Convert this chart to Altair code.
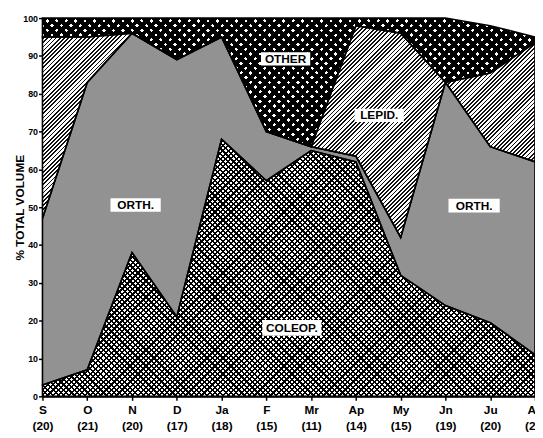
import math
import altair as alt
import pandas as pd

months = ["S", "O", "N", "D", "Ja", "F", "Mr", "Ap", "My", "Jn", "Ju", "Au"]
samples = [20, 21, 20, 17, 18, 15, 11, 14, 15, 19, 20, 21]

# % of total volume per food group
coleop = [3, 7, 38, 21, 68, 57, 65, 62, 32, 24, 19.5, 11]
orth = [44, 76, 58, 68, 27, 13, 1, 1.5, 10, 59, 46.5, 51]
lepid = [48, 12, 0, 0, 0, 0, 0, 34.5, 54, 0, 19.5, 31.5]
other = [5, 5, 4, 11, 5, 30, 34, 2, 4, 17, 12.5, 1.5]

groups = ["COLEOP", "ORTH", "LEPID", "OTHER"]
series = [coleop, orth, lepid, other]

label_text = ["ORTH.", "OTHER", "LEPID.", "ORTH.", "COLEOP."]
label_month = [2.08, 5.43, 7.52, 9.64, 5.57]
label_value = [50.6, 89.2, 74.3, 50.4, 18.1]
label_box = [51, 50, 50, 52, 60]

PLOT_W, PLOT_H = 500, 384

rows = []
for i in range(len(months)):
    base = 0.0
    for g, s in zip(groups, series):
        rows.append({"m": i, "group": g, "lo": base, "hi": base + s[i]})
        base += s[i]
df = pd.DataFrame(rows)

labels = pd.DataFrame({
    "m": label_month, "lo": label_value, "t": label_text,
    "sz": [w * w for w in label_box],
})

label_expr = "[" + ",".join(
    f"['{m}','({n})']" for m, n in zip(months, samples)) + "][datum.value]"


def group_height_px(g):
    sub = df[df["group"] == g]
    return (sub["hi"].max() - sub["lo"].min()) * PLOT_H / 100.0


def stripes(g, direction, period, frac, dark, light):
    """Hatch imitation: a linear gradient with many hard stops."""
    w, h = PLOT_W, group_height_px(g)
    k = h / w
    s = (1 + k) / (1 + k * k) * 1.02
    if direction == "/":
        x1, y1, x2, y2 = 0, 0, s, s * k
    else:
        x1, y1, x2, y2 = 0, 1, s, 1 - s * k
    length = s * (w + h * h / w) / math.sqrt(2)
    n = max(1, int(round(length / period)))
    stops = []
    for i in range(n):
        a, b, c = i / n, (i + frac) / n, (i + 1) / n
        stops += [
            {"offset": round(a, 5), "color": dark},
            {"offset": round(b, 5), "color": dark},
            {"offset": round(b, 5), "color": light},
            {"offset": round(c, 5), "color": light},
        ]
    return {"gradient": "linear", "x1": x1, "y1": y1, "x2": x2, "y2": y2,
            "stops": stops}


x_scale = alt.Scale(domain=[0, 11], nice=False, zero=False)
y_scale = alt.Scale(domain=[0, 100], nice=False)

x_axis = alt.Axis(
    values=list(range(12)), labelExpr=label_expr, title=None,
    grid=False, domainColor="black", domainWidth=2, tickColor="black",
    tickWidth=1.5, tickSize=4, labelFont="Liberation Sans",
    labelFontWeight="bold", labelFontSize=12, labelColor="black",
    labelLineHeight=17, labelPadding=4, labelFlush=False, labelOverlap=False)
y_axis = alt.Axis(
    values=list(range(0, 101, 10)), title="% TOTAL VOLUME", grid=False,
    domainColor="black", domainWidth=2, tickColor="black", tickWidth=1.5,
    tickSize=4, labelFont="Liberation Sans", labelFontWeight="bold",
    labelFontSize=9, labelColor="black", labelPadding=1, labelOverlap=False,
    titleFont="Liberation Sans", titleFontWeight="bold", titleFontSize=12,
    titleColor="black", titleX=-23, titleY=192, titleAngle=270,
    titleAlign="center", titleBaseline="middle")

X = alt.X("m:Q", scale=x_scale, axis=x_axis)
Y = alt.Y("lo:Q", scale=y_scale, axis=y_axis)

base = alt.Chart(df).encode(x=X, y=Y, y2="hi:Q")

CLEAR = "rgba(255,255,255,0)"


def area_layer(g, fill):
    return base.transform_filter(alt.datum.group == g).mark_area(
        fill=fill, strokeWidth=0, interpolate="linear")


layers = [
    # COLEOP: cross-hatch
    area_layer("COLEOP", stripes("COLEOP", "/", 3.8, 0.41, "#000000", "#ffffff")),
    area_layer("COLEOP", stripes("COLEOP", "\\", 3.8, 0.41, "#000000", CLEAR)),
    # ORTH: fine stipple -> mid grey
    area_layer("ORTH", "#929292"),
    # LEPID: diagonal hatch
    area_layer("LEPID", stripes("LEPID", "/", 3.0, 0.42, "#111111", "#ffffff")),
    # OTHER: heavy dark cross-hatch
    area_layer("OTHER", stripes("OTHER", "/", 6.8, 0.62, "#000000", "#ffffff")),
    area_layer("OTHER", stripes("OTHER", "\\", 6.8, 0.62, "#000000", CLEAR)),
]

outlines = base.mark_area(
    fill="transparent", stroke="black", strokeWidth=1.6, strokeJoin="miter",
    interpolate="linear"
).encode(detail="group:N")

boxes = alt.Chart(labels).mark_point(
    shape="M-1,-0.27L1,-0.27L1,0.27L-1,0.27Z", filled=True, fill="white",
    opacity=1, strokeWidth=0
).encode(x=X, y=Y, size=alt.Size("sz:Q", scale=None))

texts = alt.Chart(labels).mark_text(
    font="Liberation Sans", fontWeight="bold", fontSize=12, color="black",
    align="center", baseline="middle"
).encode(x=X, y=Y, text="t:N")

chart = alt.layer(*layers, outlines, boxes, texts).properties(
    width=PLOT_W, height=PLOT_H,
    autosize=alt.AutoSizeParams(type="none"),
    padding={"left": 35, "top": 7, "right": 0, "bottom": 36},
    background="white",
).configure_view(stroke=None)

chart.save("out.html", embed_options={"renderer": "svg", "actions": False})
